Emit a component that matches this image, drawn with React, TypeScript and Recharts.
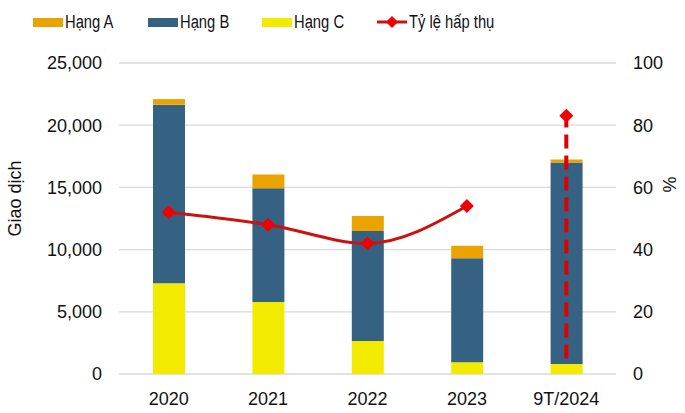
import React from 'react';
import {
  ComposedChart,
  Bar,
  Line,
  XAxis,
  YAxis,
  CartesianGrid,
  Legend,
  ReferenceLine,
} from 'recharts';

const categories = ['2020', '2021', '2022', '2023', '9T/2024'];
const hangA = [450, 1100, 1200, 1000, 250];
const hangB = [14350, 9150, 8850, 8350, 16200];
const hangC = [7300, 5780, 2650, 950, 800];
const tyLe = [52, 48, 42, 54, null];
const tyLe9T = [null, null, null, null, 83];
const leftTicks = [0, 5000, 10000, 15000, 20000, 25000];
const rightTicks = [0, 20, 40, 60, 80, 100];
const dashedFrom = 5;

const data = categories.map((name, i) => ({
  name,
  A: hangA[i],
  B: hangB[i],
  C: hangC[i],
  rate: tyLe[i],
  rate9T: tyLe9T[i],
}));

const FONT = '"Liberation Sans", Arial, sans-serif';
const ORANGE = '#EBA300';
const BLUE = '#356283';
const YELLOW = '#F2EA00';
const LINE_RED = '#CC1111';
const DOT_RED = '#F00000';

const legendItems = [
  { label: 'Hạng A', color: ORANGE, kind: 'box', w: 50 },
  { label: 'Hạng B', color: BLUE, kind: 'box', w: 49 },
  { label: 'Hạng C', color: YELLOW, kind: 'box', w: 50 },
  { label: 'Tỷ lệ hấp thụ', color: LINE_RED, kind: 'line', w: 86 },
];

const Diamond = (props: any) => {
  const { cx, cy, value } = props;
  if (value == null || cx == null || cy == null) return null;
  const r = 7;
  return (
    <polygon
      points={`${cx},${cy - r} ${cx + r},${cy} ${cx},${cy + r} ${cx - r},${cy}`}
      fill={DOT_RED}
    />
  );
};

// legend text in the reference is a narrow face, so squeeze the regular one
const LegendContent = () => (
  <div
    style={{
      display: 'flex',
      alignItems: 'center',
      height: 24,
      paddingLeft: 33,
      gap: 33,
      fontFamily: FONT,
      fontSize: 18,
      color: '#111',
    }}
  >
    {legendItems.map((it) => (
      <div key={it.label} style={{ display: 'flex', alignItems: 'center' }}>
        {it.kind === 'box' ? (
          <div style={{ width: 30, height: 9, background: it.color, marginRight: 2 }} />
        ) : (
          <svg width={30} height={14} style={{ marginRight: 2 }}>
            <line x1={0} y1={7} x2={30} y2={7} stroke={it.color} strokeWidth={3} />
            <polygon points="15,1 21,7 15,13 9,7" fill={DOT_RED} />
          </svg>
        )}
        <div style={{ width: it.w, whiteSpace: 'nowrap' }}>
          <span
            style={{
              display: 'inline-block',
              transform: 'scaleX(0.82)',
              transformOrigin: 'left center',
            }}
          >
            {it.label}
          </span>
        </div>
      </div>
    ))}
  </div>
);

const LeftLabel = (props: any) => {
  const { viewBox } = props;
  const x = viewBox.x + 15;
  const y = viewBox.y + viewBox.height / 2 - 20;
  return (
    <text
      x={x}
      y={y}
      transform={`rotate(-90, ${x}, ${y})`}
      textAnchor="middle"
      dominantBaseline="central"
      fontFamily={FONT}
      fontSize={18}
      fill="#111"
    >
      Giao dịch
    </text>
  );
};

const RightLabel = (props: any) => {
  const { viewBox } = props;
  const x = viewBox.x + 54;
  const y = viewBox.y + viewBox.height / 2 - 34;
  return (
    <text
      x={x}
      y={y}
      transform={`rotate(-90, ${x}, ${y})`}
      textAnchor="middle"
      dominantBaseline="central"
      fontFamily={FONT}
      fontSize={18}
      fill="#111"
    >
      %
    </text>
  );
};

const tickStyle = { fontFamily: FONT, fontSize: 18, fill: '#111' };

export default function App() {
  return (
    <div style={{ position: 'absolute', left: 0, top: 0, width: 685, height: 413, background: '#fff' }}>
      <ComposedChart
        width={685}
        height={413}
        data={data}
        margin={{ top: 39, right: 0, bottom: 0, left: 0 }}
        barCategoryGap={0}
      >
        <Legend
          verticalAlign="top"
          align="left"
          content={LegendContent}
          wrapperStyle={{ top: 10, left: 0, width: 685 }}
        />
        <CartesianGrid vertical={false} stroke="#D9D9D9" strokeWidth={1.3} yAxisId="left" />
        <XAxis
          dataKey="name"
          axisLine={false}
          tickLine={false}
          tick={tickStyle}
          tickMargin={12}
          height={39}
        />
        <YAxis
          yAxisId="left"
          domain={[0, 25000]}
          ticks={leftTicks}
          tickFormatter={(v: number) => v.toLocaleString('en-US')}
          axisLine={false}
          tickLine={false}
          tick={tickStyle}
          tickMargin={11}
          width={119}
          label={<LeftLabel />}
        />
        <YAxis
          yAxisId="right"
          orientation="right"
          domain={[0, 100]}
          ticks={rightTicks}
          axisLine={false}
          tickLine={false}
          tick={{ ...tickStyle, textAnchor: 'start' }}
          tickMargin={11}
          width={69}
          label={<RightLabel />}
        />
        <Bar yAxisId="left" dataKey="C" name="Hạng C" stackId="s" fill={YELLOW} barSize={32} isAnimationActive={false} />
        <Bar yAxisId="left" dataKey="B" name="Hạng B" stackId="s" fill={BLUE} barSize={32} isAnimationActive={false} />
        <Bar yAxisId="left" dataKey="A" name="Hạng A" stackId="s" fill={ORANGE} barSize={32} isAnimationActive={false} />
        <ReferenceLine
          yAxisId="right"
          segment={[
            { x: '9T/2024', y: dashedFrom },
            { x: '9T/2024', y: tyLe9T[4] as number },
          ]}
          stroke="#E00000"
          strokeWidth={4}
          strokeDasharray="14 7"
        />
        <Line
          yAxisId="right"
          type="monotone"
          dataKey="rate"
          name="Tỷ lệ hấp thụ"
          stroke={LINE_RED}
          strokeWidth={3}
          dot={<Diamond />}
          activeDot={false}
          connectNulls={false}
          isAnimationActive={false}
        />
        <Line
          yAxisId="right"
          dataKey="rate9T"
          stroke="none"
          dot={<Diamond />}
          activeDot={false}
          legendType="none"
          isAnimationActive={false}
        />
      </ComposedChart>
    </div>
  );
}
